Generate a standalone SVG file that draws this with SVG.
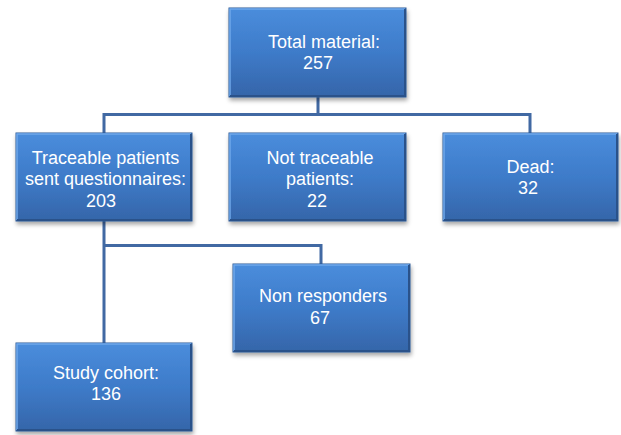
<svg xmlns="http://www.w3.org/2000/svg" width="621" height="435" viewBox="0 0 621 435">
  <defs>
    <linearGradient id="boxFill" x1="0" y1="0" x2="0" y2="1">
      <stop offset="0" stop-color="#4a8ddc"/>
      <stop offset="0.5" stop-color="#3e7bc9"/>
      <stop offset="1" stop-color="#3565a9"/>
    </linearGradient>
    <filter id="shadow" x="-10%" y="-10%" width="125%" height="130%">
      <feDropShadow dx="1" dy="3" stdDeviation="2" flood-color="#000" flood-opacity="0.35"/>
    </filter>
    <style>
      .box { fill: url(#boxFill); stroke: #2f5a96; stroke-width: 1; filter: url(#shadow); }
      .hl { fill: none; stroke: #6fa8ea; stroke-width: 1.5; }
      .sh { fill: none; stroke: #2a528a; stroke-width: 2; }
      .lbl { font-family: "Liberation Sans", Arial, sans-serif; font-size: 18px; fill: #ffffff; text-anchor: middle; }
      .conn { fill: none; stroke: #4169a3; stroke-width: 3; }
    </style>
  </defs>

  <g id="connectors">
    <path class="conn" d="M318,97 V114.5 M104,133 V114.5 H530 V133"/>
    <path class="conn" d="M104,221 V343 M104,245.5 H321 V264"/>
  </g>

  <g id="total">
    <rect class="box" x="229" y="8" width="177" height="89"/>
    <path class="hl" d="M230,96 V9 H405"/>
    <path class="sh" d="M405,9 V96 H230"/>
    <text class="lbl" x="324" y="48">Total material:</text>
    <text class="lbl" x="318" y="69">257</text>
  </g>

  <g id="traceable">
    <rect class="box" x="16" y="133" width="176" height="88"/>
    <path class="hl" d="M17,220 V134 H191"/>
    <path class="sh" d="M191,134 V220 H17"/>
    <text class="lbl" x="105.5" y="164">Traceable patients</text>
    <text class="lbl" x="105.5" y="185">sent questionnaires:</text>
    <text class="lbl" x="101" y="207">203</text>
  </g>

  <g id="not-traceable">
    <rect class="box" x="229" y="133" width="177" height="88"/>
    <path class="hl" d="M230,220 V134 H405"/>
    <path class="sh" d="M405,134 V220 H230"/>
    <text class="lbl" x="320" y="164">Not traceable</text>
    <text class="lbl" x="320" y="185">patients:</text>
    <text class="lbl" x="317" y="207">22</text>
  </g>

  <g id="dead">
    <rect class="box" x="443" y="133" width="175" height="88"/>
    <path class="hl" d="M444,220 V134 H617"/>
    <path class="sh" d="M617,134 V220 H444"/>
    <text class="lbl" x="530.5" y="173">Dead:</text>
    <text class="lbl" x="528" y="194">32</text>
  </g>

  <g id="non-responders">
    <rect class="box" x="233" y="264" width="177" height="88"/>
    <path class="hl" d="M234,351 V265 H409"/>
    <path class="sh" d="M409,265 V351 H234"/>
    <text class="lbl" x="323" y="302">Non responders</text>
    <text class="lbl" x="320" y="324">67</text>
  </g>

  <g id="study-cohort">
    <rect class="box" x="16" y="343" width="176" height="88"/>
    <path class="hl" d="M17,430 V344 H191"/>
    <path class="sh" d="M191,344 V430 H17"/>
    <text class="lbl" x="106" y="379">Study cohort:</text>
    <text class="lbl" x="106" y="400">136</text>
  </g>
</svg>
